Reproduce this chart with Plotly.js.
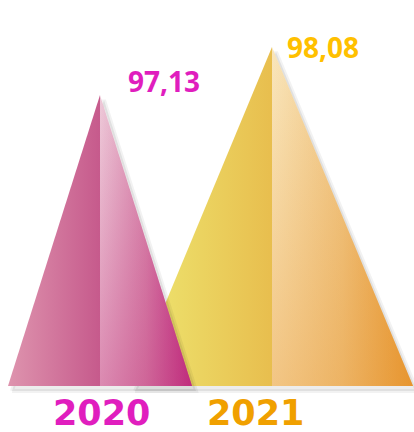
<!DOCTYPE html>
<html>
<head>
<meta charset="utf-8">
<script src="https://cdn.plot.ly/plotly-3.0.1.min.js"></script>
<style>html,body{margin:0;padding:0;background:#fff;}#chart{width:414px;height:432px;}</style>
</head>
<body>
<div id="chart"></div>
<script>
// ---- data ----
const categories = ['2020', '2021'];
const values = [97.13, 98.08];
const valueLabels = ['97,13', '98,08'];

// ---- style ----
const baseValue = 91.37;            // axis baseline
const halfWidths = [0.535, 0.82];   // pyramid half base width (x units)
const labelColors = ['#E01EBE', '#F0A000'];
const valueColors = ['#E01EBE', '#FFC000'];
const leftGrad = [
  [[0, '#DE94AE'], [1, '#C65A8C']],
  [[0, '#EEE872'], [1, '#E8BE4E']]
];
const rightGrad = [
  [[0, '#EECAD9'], [0.5, '#D887AC'], [1, '#BC1E7A']],
  [[0, '#F9E6BC'], [0.5, '#F0C684'], [1, '#E6942C']]
];
const rightShade = [
  [[0, 'rgba(196,60,128,0.45)'], [1, 'rgba(196,60,128,0)']],
  [[0, 'rgba(232,150,50,0.40)'], [1, 'rgba(232,150,50,0)']]
];
const valueShift = [[26, 14], [13, 0]];
const yearShift = [1, -17];
const pxX = 172, pxY = 50.53;

const traces = [];
const order = [1, 0]; // draw 2021 behind 2020
order.forEach(i => {
  const pos = i, v = values[i], hw = halfWidths[i];
  const dx = 4 / pxX, dy = 5 / pxY;
  // shadow
  traces.push({
    type: 'scatter', mode: 'lines', fill: 'toself',
    x: [pos - hw + dx, pos + dx, pos + hw + dx, pos - hw + dx],
    y: [baseValue - dy, v - dy, baseValue - dy, baseValue - dy],
    line: {width: 4, color: 'rgba(0,0,0,0.05)'},
    fillcolor: 'rgba(0,0,0,0.07)', hoverinfo: 'skip', showlegend: false
  });
  // left half
  traces.push({
    type: 'scatter', mode: 'lines', fill: 'toself',
    x: [pos - hw, pos, pos, pos - hw],
    y: [baseValue, v, baseValue, baseValue],
    line: {width: 0, color: 'rgba(0,0,0,0)'},
    fillgradient: {type: 'horizontal', colorscale: leftGrad[i]},
    hoverinfo: 'skip', showlegend: false, name: categories[i]
  });
  // right half
  traces.push({
    type: 'scatter', mode: 'lines', fill: 'toself',
    x: [pos, pos, pos + hw, pos],
    y: [baseValue, v, baseValue, baseValue],
    line: {width: 0, color: 'rgba(0,0,0,0)'},
    fillgradient: {type: 'horizontal', colorscale: rightGrad[i]},
    hoverinfo: 'skip', showlegend: false, name: categories[i]
  });
  // right half vertical shading
  traces.push({
    type: 'scatter', mode: 'lines', fill: 'toself',
    x: [pos, pos, pos + hw, pos],
    y: [baseValue, v, baseValue, baseValue],
    line: {width: 0, color: 'rgba(0,0,0,0)'},
    fillgradient: {type: 'vertical', colorscale: rightShade[i]},
    hoverinfo: 'skip', showlegend: false
  });
});

const annotations = [];
categories.forEach((c, i) => {
  annotations.push({
    x: i, y: values[i], xref: 'x', yref: 'y',
    text: valueLabels[i], showarrow: false,
    xanchor: 'left', yanchor: 'middle',
    xshift: valueShift[i][0], yshift: valueShift[i][1],
    font: {family: 'Open Sans', size: 28, weight: 700, color: valueColors[i]}
  });
  annotations.push({
    x: i, y: 0.044, xref: 'x', yref: 'paper',
    text: c, showarrow: false,
    xanchor: 'center', yanchor: 'middle', xshift: yearShift[i],
    font: {family: 'DejaVu Sans', size: 35, weight: 700, color: labelColors[i]}
  });
});

const layout = {
  width: 414, height: 432,
  margin: {l: 0, r: 0, t: 0, b: 0},
  paper_bgcolor: '#ffffff', plot_bgcolor: '#ffffff',
  xaxis: {range: [-100 / pxX, 314 / pxX], visible: false, fixedrange: true},
  yaxis: {range: [baseValue - 46 / pxY, values[1] + 47 / pxY], visible: false, fixedrange: true},
  annotations: annotations,
  showlegend: false
};

Plotly.newPlot('chart', traces, layout, {displayModeBar: false, staticPlot: true});
</script>
</body>
</html>
